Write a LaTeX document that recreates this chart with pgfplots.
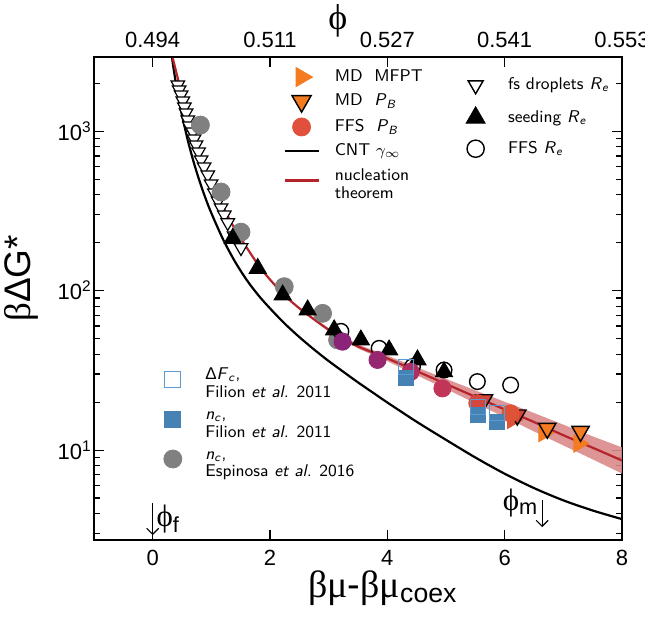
\documentclass[border=0pt]{standalone}
\usepackage{fontspec}
\usepackage{pgfplots}
\pgfplotsset{compat=1.18}
\usetikzlibrary{arrows.meta}
\newfontfamily\arial{Liberation Sans}
\newfontfamily\tnr{Liberation Serif}
\definecolor{mdorange}{HTML}{F47B20}
\definecolor{ffsred}{HTML}{E0503C}
\definecolor{ntred}{HTML}{B5242A}
\definecolor{bandc}{HTML}{D98A8A}
\definecolor{filblue}{HTML}{4682B4}
\definecolor{filopen}{HTML}{5C9BD1}
\definecolor{espgray}{HTML}{808080}
\definecolor{ca}{HTML}{8B2378}
\definecolor{cb}{HTML}{962670}
\definecolor{cc}{HTML}{B02E62}
\definecolor{cd}{HTML}{C03558}
\definecolor{ce}{HTML}{D5463E}
\definecolor{cf}{HTML}{DE5236}
\definecolor{cg}{HTML}{D84438}
\pgfplotsset{
  myaxis/.style={
    at={(0,0)}, anchor=south west,
    scale only axis, width=264pt, height=241.5pt,
    xmin=-1, xmax=8,
    tick align=inside,
    major tick length=5pt, minor tick length=3pt,
    every tick/.style={black, line width=0.6pt},
    axis line style={black, line width=0.8pt},
    tick label style={font=\arial\fontsize{11}{13}\selectfont},
    legend image code/.code={\path (0cm,-0.1cm) (0.6cm+7.5pt,0.1cm);
      \draw[mark repeat=2,mark phase=2,#1] plot coordinates {(0cm,0cm) (0.3cm,0cm) (0.6cm,0cm)};},
    legend cell align=left,
  }
}
\begin{document}
\begin{tikzpicture}
\useasboundingbox (-47pt,-40pt) rectangle (275.5pt,270pt);
% ---------------- main axis ----------------
\begin{axis}[myaxis,
  ymode=log, ymin=2.73, ymax=2925,
  xtick={0,2,4,6,8}, xticklabels={0,2,4,6,8},
  ytick={10,100,1000},
  yticklabels={10\textsuperscript{1},10\textsuperscript{2},10\textsuperscript{3}},
  minor ytick={3,4,5,6,7,8,9,20,30,40,50,60,70,80,90,200,300,400,500,600,700,800,900,2000},
  xtick pos=both, ytick pos=both,
  xticklabel pos=lower, yticklabel pos=left,
  xticklabel style={yshift=-1.5pt},
  yticklabel style={inner xsep=1pt},
  legend style={at={(axis description cs:0.358,0.979)}, anchor=north west,
    draw=none, fill=none, inner sep=0pt,
    font=\sffamily\fontsize{8.5}{9}\selectfont,
    row sep=2.6pt, nodes={inner xsep=0pt, inner ysep=1pt}},
]
\addlegendimage{only marks, mdorange, mark=triangle*, mark size=5.5pt, mark options={rotate=-90, fill=mdorange}}
\addlegendentry{MD\ \ MFPT}
\addlegendimage{only marks, mark=triangle*, mark size=5.5pt, mark options={rotate=180, fill=mdorange, draw=black, line width=0.7pt}}
\addlegendentry{MD\ \ \textit{P}\textsubscript{\textit{B}}}
\addlegendimage{only marks, ffsred, mark=*, mark size=4.5pt, mark options={fill=ffsred}}
\addlegendentry{FFS\ \ \textit{P}\textsubscript{\textit{B}}}
\addlegendimage{black, line width=1.1pt}
\addlegendentry{CNT $\gamma_\infty$}
\addlegendimage{ntred, line width=1.1pt}
\addlegendentry{\begin{tabular}{@{}l@{}}nucleation\\theorem\end{tabular}}

% nucleation theorem uncertainty band
\addplot[forget plot, draw=none, fill=bandc, fill opacity=0.9] coordinates {
 (2.5,78.7) (3.0,58.1) (3.5,46.0) (4.0,39.2) (4.5,33.1) (5.0,28.0) (5.5,23.7) (6.0,20.1) (6.5,17.1) (7.0,14.45) (7.5,12.2) (8.0,10.4)
 (8.0,7.13) (7.5,8.75) (7.0,10.7) (6.5,13.1) (6.0,16.1) (5.5,19.7) (5.0,24.2) (4.5,29.5) (4.0,36.1) (3.5,43.4) (3.0,55.7) (2.5,76.6)
} -- cycle;
% CNT
\addplot[forget plot, black, line width=1.1pt, smooth] coordinates {
 (0.30,3500) (0.35,2571) (0.40,1969) (0.45,1556) (0.50,1260) (0.60,875) (0.70,639) (0.80,486) (0.90,381) (1.00,307)
 (1.20,210) (1.40,153) (1.60,117.2) (1.80,93.8) (2.00,77.5) (2.25,62.2) (2.50,51.2) (2.75,42.8) (3.00,36.2) (3.25,31.0)
 (3.50,26.6) (3.75,23.0) (4.00,19.9) (4.50,15.06) (5.00,11.6) (5.50,8.99) (6.00,7.11) (6.50,5.78) (7.00,4.84) (7.50,4.18) (8.00,3.69)
};
% nucleation theorem
\addplot[forget plot, ntred, line width=1.1pt, smooth] coordinates {
 (0.32,3120) (0.34,2897) (0.45,1995) (0.55,1380) (0.642,1000) (0.75,759) (0.84,617) (1.0,457) (1.177,347) (1.35,263)
 (1.516,209) (1.8,145) (2.0,117.5) (2.25,93.3) (2.5,77.6) (2.75,66.1) (3.0,56.9) (3.25,50.1) (3.5,44.7) (4.0,37.6)
 (4.5,31.3) (5.0,26.0) (5.5,21.6) (6.0,18.0) (6.5,15.0) (7.0,12.4) (7.5,10.35) (8.0,8.61)
};
% fs droplets R_e
\addplot[forget plot, only marks, black, mark=triangle*, mark size=3.9pt, mark options={rotate=180, draw=black, fill=white, line width=0.6pt}] coordinates {
 (0.429,1954) (0.451,1820) (0.485,1692) (0.514,1551) (0.541,1422) (0.570,1304) (0.599,1178) (0.626,1081) (0.684,991) (0.706,896)
 (0.740,822) (0.783,743) (0.826,662) (0.877,598) (0.940,533) (0.996,468) (1.052,411) (1.115,366) (1.166,331) (1.222,299)
 (1.280,267) (1.387,221) (1.506,186)
};
% Espinosa n_c
\addplot[forget plot, only marks, espgray, mark=*, mark size=4.5pt, mark options={fill=espgray}] coordinates {
 (0.814,1094) (1.166,416) (1.506,233) (2.243,106) (2.897,72.1) (3.152,49.1)
};
% seeding R_e
\addplot[forget plot, only marks, black, mark=triangle*, mark size=5pt, mark options={fill=black}] coordinates {
 (1.365,213) (1.791,138) (2.216,94.0) (2.642,75.7) (3.094,56.8) (3.549,49.1) (4.031,42.5) (4.514,36.8) (4.967,31.0)
};
% FFS R_e
\addplot[forget plot, only marks, black, mark=o, mark size=3.9pt, mark options={line width=0.7pt}] coordinates {
 (3.209,55.6) (3.860,43.5) (4.429,33.4) (4.967,31.8) (5.535,26.9) (6.102,25.6)
};
% MD MFPT
\addplot[forget plot, only marks, cf, mark=triangle*, mark size=5pt, mark options={rotate=-90, fill=cf}] coordinates {(6.136,15.5)};
\addplot[forget plot, only marks, mdorange, mark=triangle*, mark size=5pt, mark options={rotate=-90, fill=mdorange}] coordinates {(6.669,12.8) (7.265,11.0)};
% MD P_B
\addplot[forget plot, only marks, black, mark=triangle*, mark size=5pt, mark options={rotate=180, fill=cg, draw=black, line width=0.7pt}] coordinates {(5.648,20.7) (6.216,16.6)};
\addplot[forget plot, only marks, black, mark=triangle*, mark size=5pt, mark options={rotate=180, fill=mdorange, draw=black, line width=0.7pt}] coordinates {(6.727,13.7) (7.294,13.1)};
% FFS P_B (coloured by supersaturation)
\addplot[forget plot, only marks, ca, mark=*, mark size=4.3pt, mark options={fill=ca}] coordinates {(3.237,47.9)};
\addplot[forget plot, only marks, cb, mark=*, mark size=4.3pt, mark options={fill=cb}] coordinates {(3.833,36.8)};
\addplot[forget plot, only marks, cc, mark=*, mark size=4.3pt, mark options={fill=cc}] coordinates {(4.400,31.0)};
\addplot[forget plot, only marks, cd, mark=*, mark size=4.3pt, mark options={fill=cd}] coordinates {(4.940,24.4)};
\addplot[forget plot, only marks, ce, mark=*, mark size=4.3pt, mark options={fill=ce}] coordinates {(5.535,19.7)};
\addplot[forget plot, only marks, cf, mark=*, mark size=4.3pt, mark options={fill=cf}] coordinates {(6.102,17.0)};
% Filion n_c
\addplot[forget plot, only marks, filblue, mark=square*, mark size=3.75pt, mark options={fill=filblue}] coordinates {
 (4.315,28.3) (5.545,16.6) (5.876,15.1)
};
% Filion Delta F_c
\addplot[forget plot, only marks, filopen, mark=square, mark size=3.75pt, mark options={line width=0.6pt}] coordinates {
 (4.315,33.4) (5.545,18.7) (5.876,17.0)
};
% annotations
\draw[-{Straight Barb[length=3pt,width=6pt]}, line width=0.55pt] (axis cs:0,4.66) -- (axis cs:0,2.93);
\node[anchor=west, inner sep=0pt] at (axis cs:0.06,3.7) {\tnr\fontsize{15.5}{16}\selectfont ϕ\textsubscript{\arial f}};
\draw[-{Straight Barb[length=3pt,width=6pt]}, line width=0.55pt] (axis cs:6.64,4.86) -- (axis cs:6.64,3.29);
\node[anchor=east, inner sep=0pt] at (axis cs:6.58,4.65) {\tnr\fontsize{15.5}{16}\selectfont ϕ\textsubscript{\arial m}};
\end{axis}
% ---------------- top axis (phi) ----------------
\begin{axis}[myaxis,
  ymin=0, ymax=1,
  axis x line*=top, axis y line=none,
  xtick={0,2,4,6,8}, xticklabels={0.494,0.511,0.527,0.541,0.553},
  xticklabel style={yshift=1pt},
  legend style={at={(axis description cs:0.689,0.962)}, anchor=north west,
    draw=none, fill=none, inner sep=0pt,
    font=\sffamily\fontsize{8.5}{9}\selectfont,
    row sep=6pt, nodes={inner xsep=0pt, inner ysep=1pt}},
]
\addplot[forget plot, draw=none] coordinates {(0,0.5)};
\addlegendimage{only marks, black, mark=triangle*, mark size=4.3pt, mark options={rotate=180, draw=black, fill=white, line width=0.7pt}}
\addlegendentry{fs droplets \textit{R}\textsubscript{\textit{e}}}
\addlegendimage{only marks, black, mark=triangle*, mark size=5.5pt, mark options={fill=black}}
\addlegendentry{seeding \textit{R}\textsubscript{\textit{e}}}
\addlegendimage{only marks, black, mark=o, mark size=4.3pt, mark options={line width=0.7pt}}
\addlegendentry{FFS \textit{R}\textsubscript{\textit{e}}}
\end{axis}
% ---------------- legend for literature data + axis labels ----------------
\begin{axis}[myaxis,
  ymin=0, ymax=1, hide axis, clip=false,
  legend style={at={(axis description cs:0.1155,0.36)}, anchor=north west,
    draw=none, fill=none, inner sep=0pt,
    font=\sffamily\fontsize{8.5}{8.8}\selectfont,
    row sep=6.5pt, nodes={inner xsep=0pt, inner ysep=0.5pt}},
]
\addplot[forget plot, draw=none] coordinates {(0,0.5)};
\addlegendimage{only marks, filopen, mark=square, mark size=4pt, mark options={line width=0.6pt}}
\addlegendentry{\begin{tabular}{@{}l@{}}{\arial Δ}\textit{F}\textsubscript{\textit{c}},\\Filion \textit{et al.} 2011\end{tabular}}
\addlegendimage{only marks, filblue, mark=square*, mark size=4pt, mark options={fill=filblue}}
\addlegendentry{\begin{tabular}{@{}l@{}}\textit{n}\textsubscript{\textit{c}},\\Filion \textit{et al.} 2011\end{tabular}}
\addlegendimage{only marks, espgray, mark=*, mark size=4.5pt, mark options={fill=espgray}}
\addlegendentry{\begin{tabular}{@{}l@{}}\textit{n}\textsubscript{\textit{c}},\\Espinosa \textit{et al.} 2016\end{tabular}}
\node[inner sep=0pt] at (axis description cs:0.547,-0.099) {\fontsize{19}{20}\selectfont{\tnr βμ}{\arial -}{\tnr βμ}\textsubscript{\arial coex}};
\node[inner sep=0pt, rotate=90] at (axis description cs:-0.138,0.542) {\fontsize{18.5}{19}\selectfont{\tnr β}{\arial ΔG*}};
\node[inner sep=0pt] at (axis description cs:0.462,1.074) {\tnr\fontsize{18}{18}\selectfont ϕ};
\end{axis}
\end{tikzpicture}
\end{document}
